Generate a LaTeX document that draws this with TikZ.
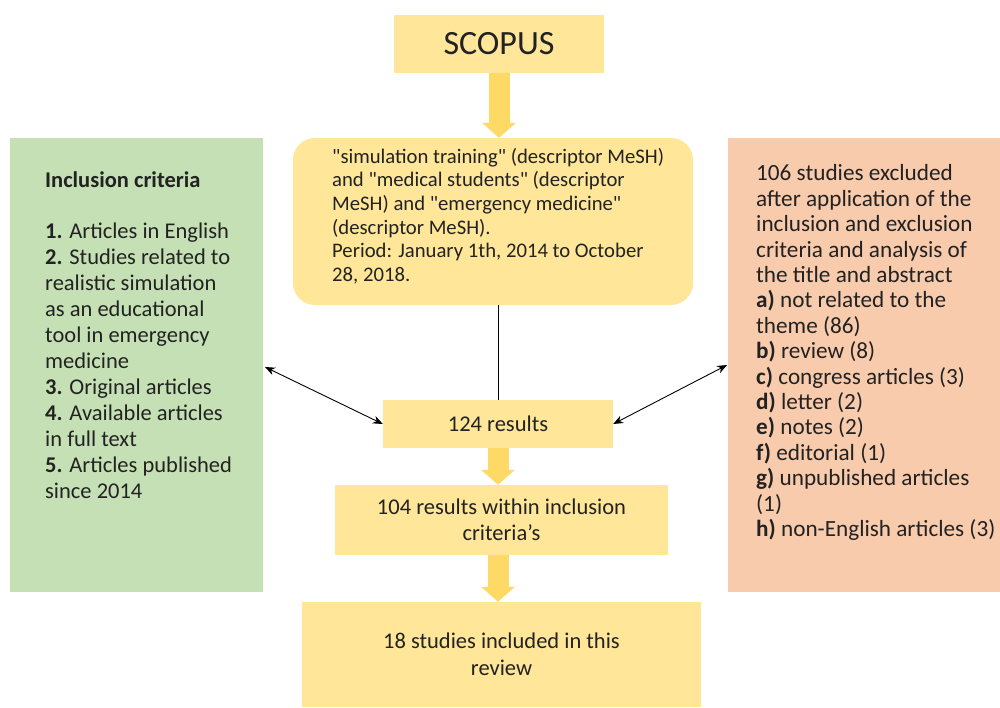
\documentclass[tikz,border=0pt]{standalone}
\usepackage{fontspec}
\setmainfont{Carlito}
\newfontfamily\qfont{Carlito}
\usetikzlibrary{arrows.meta}
\definecolor{boxyellow}{HTML}{FFE699}
\definecolor{arrowyellow}{HTML}{FFD966}
\definecolor{boxgreen}{HTML}{C5E0B4}
\definecolor{boxpeach}{HTML}{F8CBAD}
\definecolor{txt}{HTML}{222222}
\newcommand{\dq}{{\qfont\symbol{34}}}
\begin{document}
\begin{tikzpicture}[x=1pt,y=-1pt,
  box/.style={draw=none, inner sep=0pt, text=txt, align=center},
  ybox/.style={box, fill=boxyellow},
  txtblock/.style={inner sep=0pt, text=txt, align=left, anchor=north west},
  fatarrow/.style={draw=arrowyellow, line width=21pt, -{Triangle[width=33pt,length=15pt]}},
  thinarrow/.style={draw=black, line width=0.9pt, {Stealth[length=10pt,width=8pt]}-{Stealth[length=10pt,width=8pt]}}
]
\useasboundingbox (0,0) rectangle (1000,707);
\fill[white] (0,0) rectangle (1000,707);

% boxes
\node[ybox, minimum width=210pt, minimum height=58pt, font=\fontsize{34}{40}\selectfont] (scopus) at (499,44) {SCOPUS};
\node[box, fill=boxyellow, rounded corners=22pt, minimum width=400pt, minimum height=167pt] (query) at (493,221.5) {};
\node[box, fill=boxgreen, minimum width=253pt, minimum height=454pt] (incl) at (136.5,365) {};
\node[box, fill=boxpeach, minimum width=272pt, minimum height=454pt] (excl) at (864,365) {};
\node[ybox, minimum width=230pt, minimum height=48pt, font=\fontsize{22.5}{26}\selectfont] (r124) at (498,424) {124 results};
\node[ybox, minimum width=333pt, minimum height=70pt, font=\fontsize{22.5}{26.5}\selectfont] (r104) at (501.5,520) {104 results within inclusion\\criteria’s};
\node[ybox, minimum width=399pt, minimum height=105pt, font=\fontsize{22.5}{26.5}\selectfont] (r18) at (501.5,654.5) {18 studies included in this\\review};

% texts
\node[txtblock, font=\fontsize{20.7}{23.6}\selectfont] (querytext) at (332,148) {\dq simulation training\dq{} (descriptor MeSH)\\and \dq medical students\dq{} (descriptor\\MeSH) and \dq emergency medicine\dq\\(descriptor MeSH).\\Period: January 1th, 2014 to October\\28, 2018.};

\node[txtblock, font=\fontsize{22.5}{26}\selectfont] (incltext) at (45,172) {\textbf{Inclusion criteria}\\[25pt]\textbf{1.} Articles in English\\\textbf{2.} Studies related to\\realistic simulation\\as an educational\\tool in emergency\\medicine\\\textbf{3.} Original articles\\\textbf{4.} Available articles\\in full text\\\textbf{5.} Articles published\\since 2014};

\node[txtblock, font=\fontsize{23.2}{25.4}\selectfont] (excltext) at (756,164.5) {106 studies excluded\\after application of the\\inclusion and exclusion\\criteria and analysis of\\the title and abstract\\\textbf{a)} not related to the\\theme (86)\\\textbf{b)} review (8)\\\textbf{c)} congress articles (3)\\\textbf{d)} letter (2)\\\textbf{e)} notes (2)\\\textbf{f)} editorial (1)\\\textbf{g)} unpublished articles\\(1)\\\textbf{h)} non-English articles (3)};

% connectors
\draw[fatarrow] (scopus.south) -- (query.north -| scopus.south);
\draw[black, line width=1pt] (query.south -| r124.north) -- (r124.north);
\draw[fatarrow] (r124.south) -- (r104.north -| r124.south);
\draw[fatarrow] (r104.south -| r124.south) -- (r18.north -| r124.south);
\coordinate (inclpt) at (265,367);
\coordinate (exclpt) at (727,365);
\draw[thinarrow] (inclpt) -- (r124.west);
\draw[thinarrow] (r124.east) -- (exclpt);
\end{tikzpicture}
\end{document}
